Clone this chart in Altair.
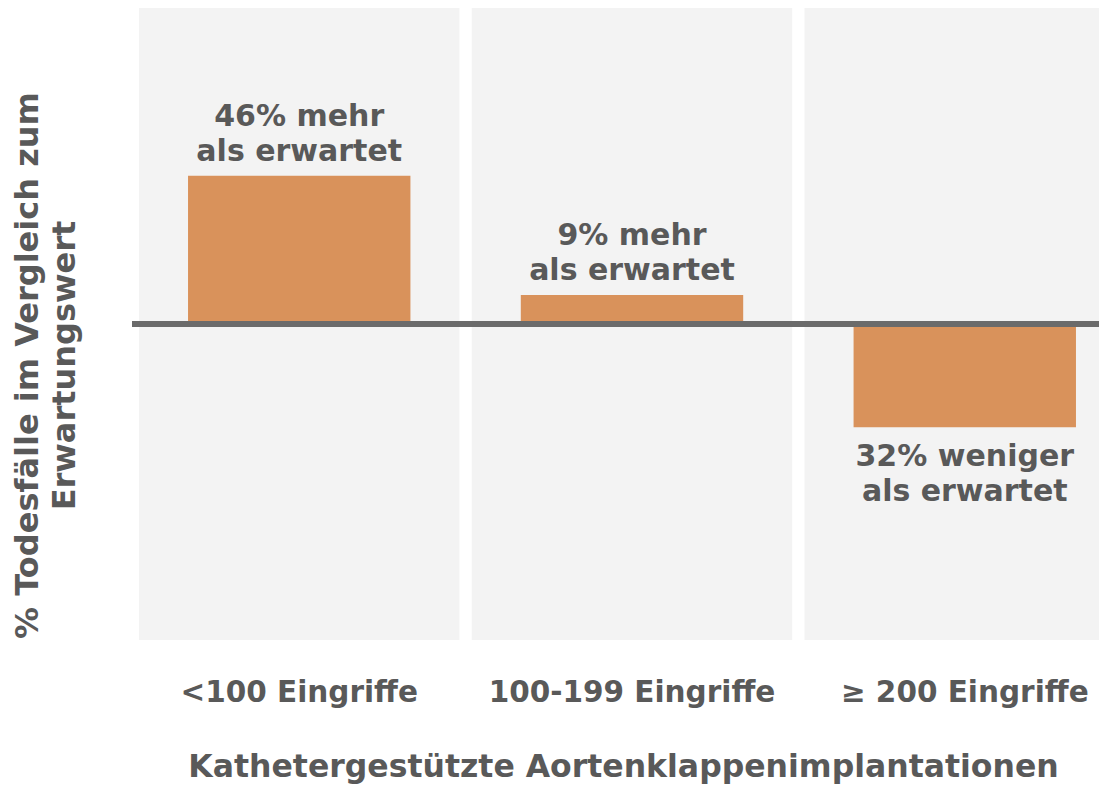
import altair as alt
import pandas as pd

categories = ["<100 Eingriffe", "100-199 Eingriffe", "≥ 200 Eingriffe"]
values = [46, 9, -32]
labels = ["46% mehr\nals erwartet", "9% mehr\nals erwartet", "32% weniger\nals erwartet"]
y_min, y_max = -98, 98

df = pd.DataFrame({"cat": categories, "val": values, "label": labels,
                   "lo": [y_min] * 3, "hi": [y_max] * 3})

FONT = "DejaVu Sans"
TXT = "#595959"

xenc = alt.X("cat:N", sort=categories,
             scale=alt.Scale(range=[7, 993], paddingInner=0.037, paddingOuter=0),
             axis=alt.Axis(title="Kathetergestützte Aortenklappenimplantationen",
                           labelAngle=0, domain=False, ticks=False, grid=False,
                           labelFont=FONT, labelFontSize=29.5, labelFontWeight="bold",
                           labelColor=TXT, labelPadding=38, labelLimit=0,
                           titleFont=FONT, titleFontSize=31.5, titleFontWeight="bold",
                           titleColor=TXT, titleX=491, titleY=136,
                           titleBaseline="alphabetic", titleAlign="center"))

yscale = alt.Scale(domain=[y_min, y_max], nice=False, zero=False)
yaxis = alt.Axis(title=["% Todesfälle im Vergleich zum", "Erwartungswert"],
                 labels=False, ticks=False, domain=False, grid=False,
                 titleFont=FONT, titleFontSize=32, titleFontWeight="bold",
                 titleColor=TXT, titleAngle=-90, titleAlign="center",
                 titleBaseline="bottom", titleX=-88, titleY=357, titleLineHeight=37)

base = alt.Chart(df)

bg = base.mark_bar(color="#f3f3f3", width=alt.RelativeBandSize(1.0)).encode(
    x=xenc,
    y=alt.Y("lo:Q", scale=yscale, axis=yaxis),
    y2="hi:Q",
)

bars = base.mark_bar(color="#d9925b", width=alt.RelativeBandSize(0.694)).encode(
    x=alt.X("cat:N", sort=categories),
    y=alt.Y("val:Q", scale=yscale),
    y2=alt.datum(0),
)

zero = base.mark_rule(color="#6b6b6b", strokeWidth=6).encode(
    y=alt.datum(0),
)

pos_txt = base.transform_filter("datum.val >= 0").mark_text(
    font=FONT, fontSize=30, fontWeight="bold", color=TXT,
    baseline="bottom", dy=-44, lineBreak="\n", lineHeight=35, align="center",
).encode(x=alt.X("cat:N", sort=categories), y=alt.Y("val:Q", scale=yscale), text="label:N")

neg_txt = base.transform_filter("datum.val < 0").mark_text(
    font=FONT, fontSize=30, fontWeight="bold", color=TXT,
    baseline="top", dy=15, lineBreak="\n", lineHeight=35, align="center",
).encode(x=alt.X("cat:N", sort=categories), y=alt.Y("val:Q", scale=yscale), text="label:N")

chart = alt.layer(bg, bars, zero, pos_txt, neg_txt).properties(
    width=967, height=632,
    autosize=alt.AutoSizeParams(type="none"),
    padding={"left": 124, "top": 0, "right": 0, "bottom": 144},
).configure(background="white").configure_view(stroke=None).configure_axis(
    grid=False, domain=False, ticks=False)

chart.save("out.html", embed_options={"renderer": "svg", "actions": False})
